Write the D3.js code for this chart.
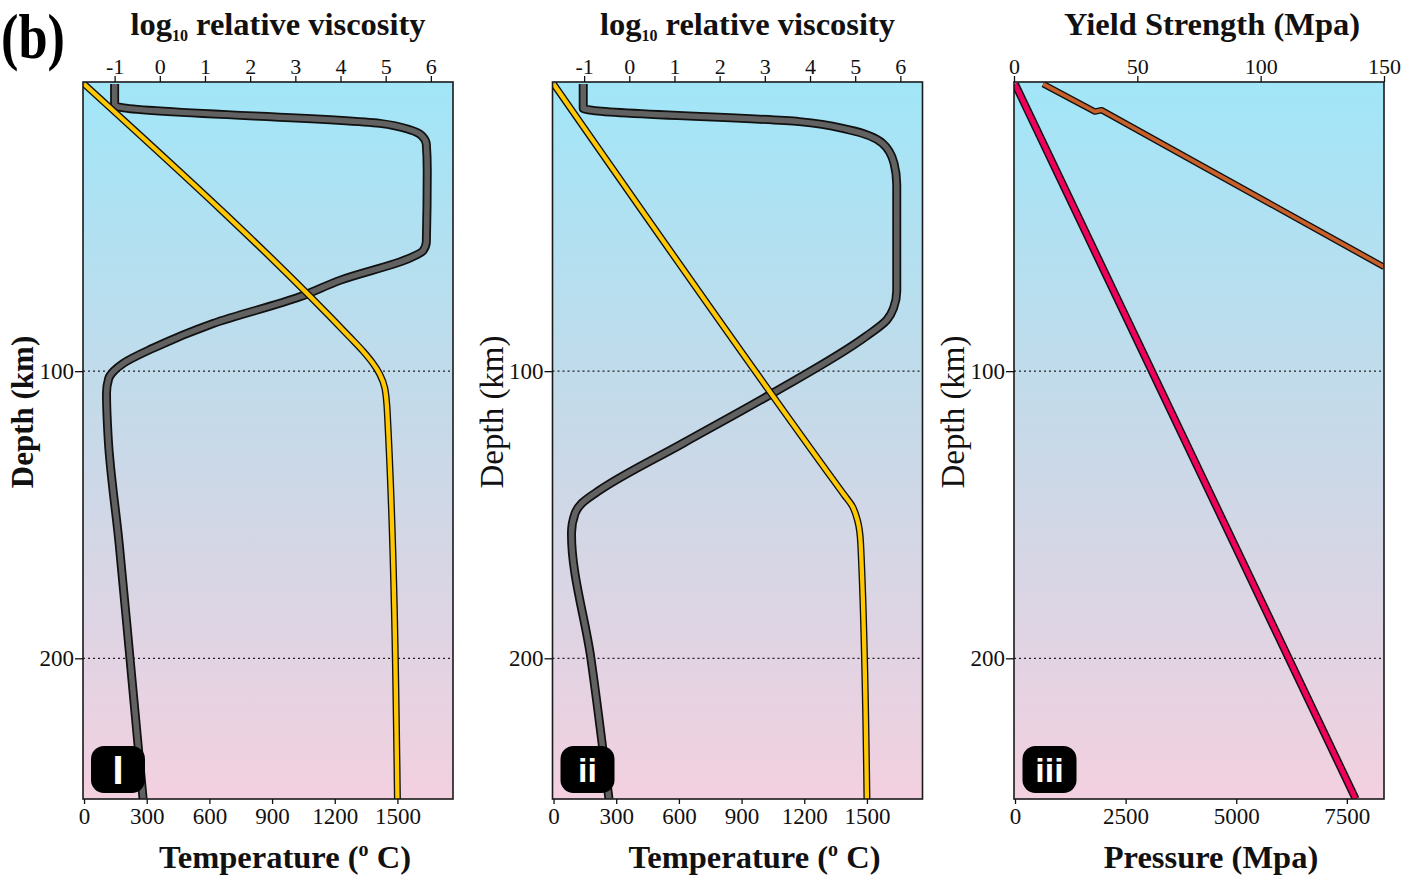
<!DOCTYPE html>
<html>
<head>
<meta charset="utf-8">
<script src="https://cdn.jsdelivr.net/npm/d3@7"></script>
<style>
  body { margin: 0; background: #fff; }
  svg { display: block; }
</style>
</head>
<body>
<svg id="chart" width="1404" height="877"></svg>
<script>
// ---- tick values ----
const depthTicks = [100, 200];
const viscosityTicks = [-1, 0, 1, 2, 3, 4, 5, 6];
const temperatureTicks = [0, 300, 600, 900, 1200, 1500];
const yieldTicks = [0, 50, 100, 150];
const pressureTicks = [0, 2500, 5000, 7500];

// ---- profiles: [depth (km), value] ----
// panel i
const viscosityI = [
  [0, -1.0], [7.5, -1.0], [8.3, -0.8], [13.7, 4.87], [16, 5.55], [18, 5.8], [21, 5.9],
  [30, 5.92], [55, 5.9], [58, 5.83], [60.5, 5.55], [68.3, 4.0], [74.1, 3.1], [83.4, 1.18],
  [92, -0.15], [97.3, -0.81], [100, -1.02], [102.5, -1.13], [107.7, -1.18], [124, -1.14],
  [160, -0.9], [200, -0.66], [249, -0.37]
];
const temperatureI = [
  [0, 0], [88, 1270], [93, 1335], [97, 1380], [101, 1415], [106, 1440], [115, 1452], [249, 1500]
];
// panel ii
const viscosityII = [
  [0, -1.02], [8.5, -1.02], [9.2, -0.8], [13.1, 3.76], [16, 4.87], [20.6, 5.6], [27.6, 5.86],
  [35, 5.92], [72, 5.92], [78, 5.85], [82.2, 5.7], [88, 5.23], [107.7, 3.17], [125.1, 1.19],
  [141.4, -0.65], [146, -1.05], [149.5, -1.2], [156.5, -1.28], [200, -0.85], [249, -0.45]
];
const temperatureII = [
  [0, 0], [138, 1340], [143, 1390], [147, 1430], [152, 1455], [160, 1470], [249, 1500]
];
// panel iii
const yieldStrength = [[0, 11.8], [9.6, 32.8], [9.1, 35.5], [63.7, 150]];
const pressure = [[0, 0], [249, 7700]];

// ---- layout ----
const W = 370;
const panelX = [83, 552.5, 1014];
const serif = "'Liberation Serif', 'Times New Roman', serif";
const svg = d3.select("#chart");

const y = d3.scaleLinear().domain([-0.7, 249]).range([82, 799]);
const xVisc = d3.scaleLinear().domain([-1.7, 6.49]).range([0, W]);
const xTemp = d3.scaleLinear().domain([-5, 1766]).range([0, W]);
const xYield = d3.scaleLinear().domain([0, 150]).range([0, W]);
const xPress = d3.scaleLinear().domain([-23, 8340]).range([0, W]);

const defs = svg.append("defs");
const grad = defs.append("linearGradient").attr("id", "bg")
  .attr("x1", 0).attr("y1", 0).attr("x2", 0).attr("y2", 1);
grad.append("stop").attr("offset", "0%").attr("stop-color", "#a1e6f8");
grad.append("stop").attr("offset", "50%").attr("stop-color", "#c8d9e8");
grad.append("stop").attr("offset", "100%").attr("stop-color", "#f3d0df");
defs.append("clipPath").attr("id", "plotClip")
  .append("rect").attr("x", 0).attr("y", y.range()[0]).attr("width", W).attr("height", y.range()[1] - y.range()[0]);

svg.append("text").attr("x", 1).attr("y", 58)
  .attr("font-family", serif).attr("font-weight", "bold").attr("font-size", 64)
  .attr("textLength", 64).attr("lengthAdjust", "spacingAndGlyphs").text("(b)");

function drawProfile(g, data, x, outer, inner, wOuter, wInner, curve) {
  const line = d3.line().x(d => x(d[1])).y(d => y(d[0])).curve(curve);
  const cg = g.append("g").attr("clip-path", "url(#plotClip)");
  cg.append("path").attr("d", line(data)).attr("fill", "none").attr("stroke", outer)
    .attr("stroke-width", wOuter).attr("stroke-linejoin", "round").attr("stroke-linecap", "butt");
  cg.append("path").attr("d", line(data)).attr("fill", "none").attr("stroke", inner)
    .attr("stroke-width", wInner).attr("stroke-linejoin", "round").attr("stroke-linecap", "butt");
}

function styleAxis(sel, size) {
  sel.select(".domain").remove();
  sel.selectAll(".tick line").attr("stroke", "#111").attr("stroke-width", 1.3);
  sel.selectAll(".tick text").attr("font-family", serif).attr("font-size", size).attr("fill", "#111");
}

function panel(i, cfg) {
  const g = svg.append("g").attr("transform", `translate(${panelX[i]},0)`);
  const y0 = y.range()[0], y1 = y.range()[1];
  g.append("rect").attr("x", 0).attr("y", y0).attr("width", W).attr("height", y1 - y0).attr("fill", "url(#bg)");

  // depth reference lines
  g.selectAll(".ref").data(depthTicks).enter().append("line")
    .attr("x1", 0).attr("x2", W).attr("y1", d => y(d)).attr("y2", d => y(d))
    .attr("stroke", "#222").attr("stroke-width", 1.3).attr("stroke-dasharray", "2,3");

  cfg.draw(g);

  g.append("rect").attr("x", 0).attr("y", y0).attr("width", W).attr("height", y1 - y0)
    .attr("fill", "none").attr("stroke", "#1a1a1a").attr("stroke-width", 1.6);

  // axes
  const top = g.append("g").attr("transform", `translate(0,${y0})`)
    .call(d3.axisTop(cfg.xTop).tickValues(cfg.topTicks).tickSize(6).tickPadding(2).tickFormat(d => String(d)));
  styleAxis(top, 22);
  const bot = g.append("g").attr("transform", `translate(0,${y1})`)
    .call(d3.axisBottom(cfg.xBottom).tickValues(cfg.bottomTicks).tickSize(5).tickPadding(4).tickFormat(d => String(d)));
  styleAxis(bot, 23);
  const left = g.append("g")
    .call(d3.axisLeft(y).tickValues(depthTicks).tickSize(8).tickPadding(1).tickFormat(d => String(d)));
  styleAxis(left, 23);

  // titles
  const tt = g.append("text").attr("x", cfg.topTitleX).attr("y", 35).attr("text-anchor", "middle")
    .attr("font-family", serif).attr("font-weight", "bold").attr("font-size", 32.5).attr("fill", "#111");
  cfg.topTitle(tt);
  const bt = g.append("text").attr("x", cfg.bottomTitleX).attr("y", 868).attr("text-anchor", "middle")
    .attr("font-family", serif).attr("font-weight", "bold").attr("font-size", 32.5).attr("fill", "#111");
  cfg.bottomTitle(bt);
  g.append("text").attr("transform", `translate(${cfg.depthLabelX},412) rotate(-90)`)
    .attr("text-anchor", "middle").attr("font-family", serif)
    .attr("font-weight", cfg.depthBold ? "bold" : "normal").attr("font-size", cfg.depthBold ? 31 : 33).attr("fill", "#111")
    .text("Depth (km)");

  // panel badge
  const b = g.append("g").attr("transform", `translate(${cfg.badgeX},746)`);
  b.append("rect").attr("width", 54).attr("height", 47).attr("rx", 13).attr("fill", "#000");
  b.append("text").attr("x", 27).attr("y", cfg.badgeSize > 36 ? 38 : 36).attr("text-anchor", "middle")
    .attr("font-family", "'Liberation Sans', Arial, sans-serif").attr("font-weight", "bold")
    .attr("font-size", cfg.badgeSize).attr("fill", "#fff").text(cfg.badge);
}

function viscosityTitle(t) {
  t.append("tspan").text("log");
  t.append("tspan").attr("font-size", 16).attr("dy", 6).text("10");
  t.append("tspan").attr("dy", -6).text(" relative viscosity");
}
function temperatureTitle(t) {
  t.append("tspan").text("Temperature (");
  t.append("tspan").attr("font-size", 20).attr("dy", -12).text("o");
  t.append("tspan").attr("dy", 12).text(" C)");
}

panel(0, {
  xTop: xVisc, topTicks: viscosityTicks, xBottom: xTemp, bottomTicks: temperatureTicks,
  topTitleX: 195, bottomTitleX: 202, topTitle: viscosityTitle, bottomTitle: temperatureTitle,
  depthLabelX: -50, depthBold: true, badgeX: 8, badge: "I", badgeSize: 40,
  draw: g => {
    drawProfile(g, viscosityI, xVisc, "#111", "#616161", 9, 5.5, d3.curveMonotoneY);
    drawProfile(g, temperatureI, xTemp, "#111", "#ffc800", 7, 4.3, d3.curveMonotoneY);
  }
});
panel(1, {
  xTop: xVisc, topTicks: viscosityTicks, xBottom: xTemp, bottomTicks: temperatureTicks,
  topTitleX: 195, bottomTitleX: 202, topTitle: viscosityTitle, bottomTitle: temperatureTitle,
  depthLabelX: -50, depthBold: false, badgeX: 8, badge: "ii", badgeSize: 34,
  draw: g => {
    drawProfile(g, viscosityII, xVisc, "#111", "#616161", 9, 5.5, d3.curveMonotoneY);
    drawProfile(g, temperatureII, xTemp, "#111", "#ffc800", 7, 4.3, d3.curveMonotoneY);
  }
});
panel(2, {
  xTop: xYield, topTicks: yieldTicks, xBottom: xPress, bottomTicks: pressureTicks,
  topTitleX: 198, bottomTitleX: 197,
  topTitle: t => t.text("Yield Strength (Mpa)"),
  bottomTitle: t => t.text("Pressure (Mpa)"),
  depthLabelX: -50, depthBold: false, badgeX: 8.5, badge: "iii", badgeSize: 34,
  draw: g => {
    drawProfile(g, yieldStrength, xYield, "#111", "#c8602c", 6.5, 3.8, d3.curveLinear);
    drawProfile(g, pressure, xPress, "#111", "#f0005c", 8, 5, d3.curveLinear);
  }
});
</script>
</body>
</html>
